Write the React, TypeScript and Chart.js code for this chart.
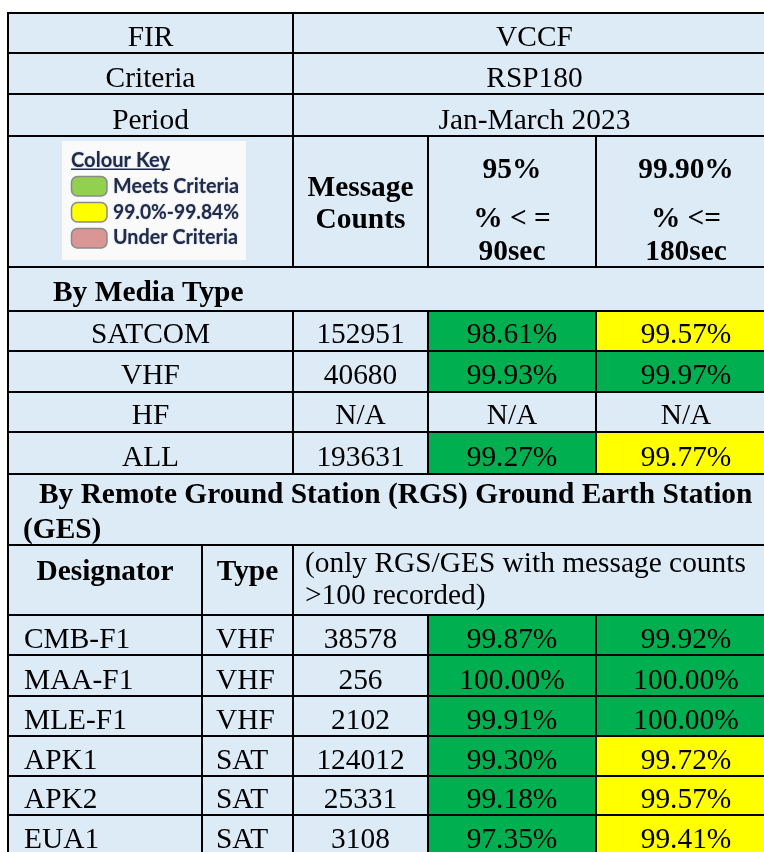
import React, { useEffect, useRef } from "react";
import { Chart, registerables } from "chart.js";

Chart.register(...registerables);

// ---------- data ----------
const headerLabels = ["FIR", "Criteria", "Period"];
const headerValues = ["VCCF", "RSP180", "Jan-March 2023"];
const legendTitle = "Colour Key";
const legendLabels = ["Meets Criteria", "99.0%-99.84%", "Under Criteria"];
const legendColors = ["#92D050", "#FFFF00", "#DA9694"];
const countHeader = ["Message", "Counts"];
const metric95Header = ["95%", "% < =", "90sec"];
const metric999Header = ["99.90%", "% <=", "180sec"];
const mediaSection = "By Media Type";
const mediaTypes = ["SATCOM", "VHF", "HF", "ALL"];
const mediaCounts: (number | null)[] = [152951, 40680, null, 193631];
const media95: (number | null)[] = [98.61, 99.93, null, 99.27];
const media999: (number | null)[] = [99.57, 99.97, null, 99.77];
const rgsSection = ["By Remote Ground Station (RGS) Ground Earth Station", "(GES)"];
const rgsHeader = ["Designator", "Type"];
const rgsNote = ["(only RGS/GES with message counts", ">100 recorded)"];
const designators = ["CMB-F1", "MAA-F1", "MLE-F1", "APK1", "APK2", "EUA1"];
const rgsTypes = ["VHF", "VHF", "VHF", "SAT", "SAT", "SAT"];
const rgsCounts = [38578, 256, 2102, 124012, 25331, 3108];
const rgs95 = [99.87, 100.0, 99.91, 99.3, 99.18, 97.35];
const rgs999 = [99.92, 100.0, 100.0, 99.72, 99.57, 99.41];
const target95 = 95;
const target999 = 99.9;
const band999 = 99.0;

// ---------- layout (table units on the chart's linear scales) ----------
const X_LEFT = 8, X_DES = 202, X_CNT = 293, X_P95 = 428, X_P999 = 596, X_RIGHT = 776;
const Y_TOP_ROWS = [13, 53, 94, 136];
const Y_HEAD_BOTTOM = 267;
const Y_MEDIA_SECTION = 311;
const Y_MEDIA_ROWS = [311, 351, 392, 432, 474];
const Y_RGS_SECTION = 545;
const Y_RGS_HEAD = 615;
const Y_RGS_ROWS = [615, 655, 696, 736, 776, 815, 855];

const BG = "#DDEBF7";
const GREEN = "#00B050";
const YELLOW = "#FFFF00";
const PINK = "#E6B8B7";
const SERIF = '"Liberation Serif", "Times New Roman", serif';
const FONT_SIZE = 29.4;

const colour95 = (v: number | null) => (v == null ? null : v >= target95 ? GREEN : PINK);
const colour999 = (v: number | null) =>
  v == null ? null : v >= target999 ? GREEN : v >= band999 ? YELLOW : PINK;
const pct = (v: number | null) => (v == null ? "N/A" : v.toFixed(2) + "%");
const cnt = (v: number | null) => (v == null ? "N/A" : String(v));

const tablePlugin = {
  id: "tablePlugin",
  afterDraw(chart: any) {
    const ctx: CanvasRenderingContext2D = chart.ctx;
    const xs = chart.scales.x;
    const ys = chart.scales.y;
    const px = (v: number) => xs.getPixelForValue(v);
    const py = (v: number) => ys.getPixelForValue(v);

    const fillCell = (x0: number, y0: number, x1: number, y1: number, c: string) => {
      ctx.fillStyle = c;
      ctx.fillRect(px(x0), py(y0), px(x1) - px(x0), py(y1) - py(y0));
    };
    const hLine = (y: number, x0: number, x1: number) => {
      ctx.fillStyle = "#000";
      ctx.fillRect(px(x0) - 1, py(y) - 1, px(x1) - px(x0) + 2, 2);
    };
    const vLine = (x: number, y0: number, y1: number) => {
      ctx.fillStyle = "#000";
      ctx.fillRect(px(x) - 1, py(y0) - 1, 2, py(y1) - py(y0) + 2);
    };
    const text = (
      s: string,
      x: number,
      baseline: number,
      align: CanvasTextAlign = "center",
      bold = false,
      size = FONT_SIZE
    ) => {
      ctx.fillStyle = "#000";
      ctx.font = `${bold ? "bold " : ""}${size}px ${SERIF}`;
      ctx.textAlign = align;
      ctx.textBaseline = "alphabetic";
      ctx.fillText(s, px(x), py(baseline));
    };

    ctx.save();
    ctx.fillStyle = "#fff";
    ctx.fillRect(0, 0, chart.width, chart.height);
    fillCell(X_LEFT, Y_TOP_ROWS[0], X_RIGHT, Y_RGS_ROWS[Y_RGS_ROWS.length - 1], BG);

    // coloured cells
    mediaTypes.forEach((_, i) => {
      const y0 = Y_MEDIA_ROWS[i], y1 = Y_MEDIA_ROWS[i + 1];
      const c1 = colour95(media95[i]);
      const c2 = colour999(media999[i]);
      if (c1) fillCell(X_P95, y0, X_P999, y1, c1);
      if (c2) fillCell(X_P999, y0, X_RIGHT, y1, c2);
    });
    designators.forEach((_, i) => {
      const y0 = Y_RGS_ROWS[i], y1 = Y_RGS_ROWS[i + 1];
      const c1 = colour95(rgs95[i]);
      const c2 = colour999(rgs999[i]);
      if (c1) fillCell(X_P95, y0, X_P999, y1, c1);
      if (c2) fillCell(X_P999, y0, X_RIGHT, y1, c2);
    });

    // colour key image
    fillCell(62, 141, 246, 260, "#FAFAFA");
    const navy = "#1E2B4C";
    const fitText = (s: string, x: number, base: number, w: number, size: number, weight: string) => {
      ctx.save();
      ctx.font = `${weight} ${size}px Lato, "Liberation Sans", sans-serif`;
      ctx.textAlign = "left";
      ctx.textBaseline = "alphabetic";
      const m = ctx.measureText(s).width;
      ctx.translate(px(x), py(base));
      ctx.scale(w / m, 1);
      ctx.fillStyle = navy;
      ctx.shadowColor = "rgba(30,43,76,0.35)";
      ctx.shadowBlur = 1.5;
      ctx.fillText(s, 0, 0);
      ctx.restore();
    };
    fitText(legendTitle, 71, 167, 99, 20.5, "bold");
    ctx.fillStyle = navy;
    ctx.fillRect(px(71), py(168.5), px(170) - px(71), 1.5);
    const swY = [176.5, 202.5, 228.5];
    const lblBase = [193, 219, 244];
    const lblW = [126, 126, 125];
    legendLabels.forEach((lab, i) => {
      const x0 = px(71.5), y0 = py(swY[i]);
      const w = px(107) - px(71.5), h = py(swY[i] + 19.5) - py(swY[i]);
      ctx.beginPath();
      ctx.roundRect(x0, y0, w, h, 6);
      ctx.fillStyle = legendColors[i];
      ctx.fill();
      ctx.lineWidth = 1.5;
      ctx.strokeStyle = "#8A8A8A";
      ctx.stroke();
      fitText(lab, 113, lblBase[i], lblW[i], 20.5, "bold");
    });

    // grid lines
    const hFull = [...Y_TOP_ROWS, Y_HEAD_BOTTOM, ...Y_MEDIA_ROWS, Y_RGS_SECTION, ...Y_RGS_ROWS];
    hFull.forEach((y) => hLine(y, X_LEFT, X_RIGHT));
    vLine(X_LEFT, Y_TOP_ROWS[0], Y_RGS_ROWS[Y_RGS_ROWS.length - 1]);
    vLine(X_RIGHT, Y_TOP_ROWS[0], Y_RGS_ROWS[Y_RGS_ROWS.length - 1]);
    vLine(X_CNT, Y_TOP_ROWS[0], Y_HEAD_BOTTOM);
    vLine(X_CNT, Y_MEDIA_ROWS[0], Y_MEDIA_ROWS[Y_MEDIA_ROWS.length - 1]);
    vLine(X_CNT, Y_RGS_SECTION, Y_RGS_ROWS[Y_RGS_ROWS.length - 1]);
    [X_P95, X_P999].forEach((x) => {
      vLine(x, Y_TOP_ROWS[3], Y_HEAD_BOTTOM);
      vLine(x, Y_MEDIA_ROWS[0], Y_MEDIA_ROWS[Y_MEDIA_ROWS.length - 1]);
      vLine(x, Y_RGS_HEAD, Y_RGS_ROWS[Y_RGS_ROWS.length - 1]);
    });
    vLine(X_DES, Y_RGS_SECTION, Y_RGS_ROWS[Y_RGS_ROWS.length - 1]);

    // texts
    const cLeft = (X_LEFT + X_CNT) / 2;
    const cRight = (X_CNT + X_RIGHT) / 2;
    const cCnt = (X_CNT + X_P95) / 2;
    const c95 = (X_P95 + X_P999) / 2;
    const c999 = (X_P999 + X_RIGHT) / 2;
    headerLabels.forEach((s, i) => text(s, cLeft, Y_TOP_ROWS[i + 1] - 7));
    headerValues.forEach((s, i) => text(s, cRight, Y_TOP_ROWS[i + 1] - 7));
    text(countHeader[0], cCnt, 196, "center", true);
    text(countHeader[1], cCnt, 228, "center", true);
    const mh = [178, 227, 260];
    metric95Header.forEach((s, i) => text(s, c95, mh[i], "center", true));
    metric999Header.forEach((s, i) => text(s, c999, mh[i], "center", true));

    text(mediaSection, 53, Y_MEDIA_SECTION - 10, "left", true);
    mediaTypes.forEach((s, i) => {
      const b = Y_MEDIA_ROWS[i + 1] - 8;
      text(s, cLeft, b);
      text(cnt(mediaCounts[i]), cCnt, b);
      text(pct(media95[i]), c95, b);
      text(pct(media999[i]), c999, b);
    });

    text(rgsSection[0], 39, 503, "left", true);
    text(rgsSection[1], 23, 538, "left", true);
    text(rgsHeader[0], (X_LEFT + X_DES) / 2, 580, "center", true);
    text(rgsHeader[1], (X_DES + X_CNT) / 2, 580, "center", true);
    text(rgsNote[0], 305, 572, "left");
    text(rgsNote[1], 305, 604, "left");

    designators.forEach((s, i) => {
      const b = Y_RGS_ROWS[i + 1] - 7;
      text(s, 24, b, "left");
      text(rgsTypes[i], 216, b, "left");
      text(cnt(rgsCounts[i]), cCnt, b);
      text(pct(rgs95[i]), c95, b);
      text(pct(rgs999[i]), c999, b);
    });
    ctx.restore();
  },
};

export default function App() {
  const ref = useRef<HTMLCanvasElement | null>(null);
  useEffect(() => {
    if (!ref.current) return;
    const chart = new Chart(ref.current, {
      type: "scatter",
      data: { datasets: [{ data: [] }] },
      options: {
        animation: false,
        responsive: false,
        devicePixelRatio: 1,
        events: [],
        layout: { padding: 0 },
        plugins: { legend: { display: false }, tooltip: { enabled: false } },
        scales: {
          x: { type: "linear", min: 0, max: 764, display: false },
          y: { type: "linear", min: 0, max: 852, reverse: true, display: false },
        },
      },
      plugins: [tablePlugin],
    });
    return () => chart.destroy();
  }, []);
  return (
    <div style={{ position: "fixed", left: 0, top: 0, width: 764, height: 852, overflow: "hidden" }}>
      <canvas ref={ref} width={764} height={852} style={{ width: 764, height: 852, display: "block" }} />
    </div>
  );
}
